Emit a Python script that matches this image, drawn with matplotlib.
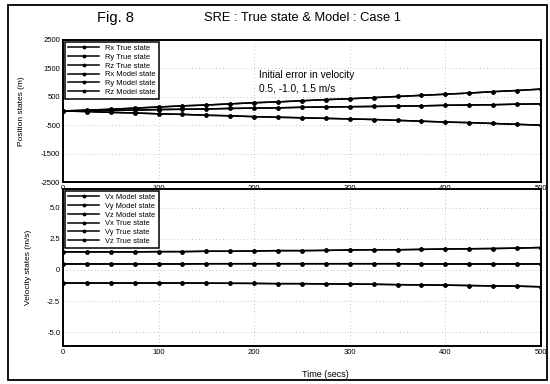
import matplotlib
matplotlib.use("Agg")
import matplotlib.pyplot as plt
from matplotlib.patches import Rectangle

plt.rcParams["font.family"] = ["Liberation Sans", "DejaVu Sans"]
plt.rcParams["axes.unicode_minus"] = False

# time axis, one marker every 25 s
t = [0, 25, 50, 75, 100, 125, 150, 175, 200, 225, 250,
     275, 300, 325, 350, 375, 400, 425, 450, 475, 500]

# position states (m)
rz_pos = [0, 30, 60, 100, 140, 180, 210, 250, 290, 320, 360,
          400, 430, 470, 510, 550, 590, 630, 680, 720, 770]
rx_pos = [0, 10, 20, 30, 50, 60, 70, 90, 100, 110, 130,
          140, 150, 160, 170, 180, 200, 210, 220, 240, 250]
ry_pos = [0, -20, -50, -70, -100, -120, -150, -170, -200, -220, -240,
          -260, -280, -300, -330, -360, -390, -410, -440, -470, -500]

# velocity states (m/s)
vz_vel = [1.45, 1.45, 1.45, 1.45, 1.47, 1.47, 1.5, 1.5, 1.52, 1.55, 1.55,
          1.57, 1.6, 1.62, 1.62, 1.65, 1.68, 1.7, 1.72, 1.75, 1.8]
vx_vel = [0.48, 0.48, 0.48, 0.48, 0.48, 0.48, 0.5, 0.5, 0.5, 0.5, 0.5,
          0.5, 0.5, 0.5, 0.5, 0.48, 0.48, 0.48, 0.48, 0.48, 0.48]
vy_vel = [-1.05, -1.05, -1.05, -1.05, -1.05, -1.05, -1.06, -1.07, -1.08, -1.1, -1.1,
          -1.12, -1.13, -1.15, -1.18, -1.2, -1.22, -1.25, -1.28, -1.3, -1.35]

pos_labels = ["Rx True state", "Ry True state", "Rz True state",
              "Rx Model state", "Ry Model state", "Rz Model state"]
vel_labels = ["Vx Model state", "Vy Model state", "Vz Model state",
              "Vx True state", "Vy True state", "Vz True state"]

fig = plt.figure(figsize=(5.5, 3.84), dpi=100)

# border round the whole figure
fig.patches.append(Rectangle((0.015, 0.011), 0.979, 0.976, transform=fig.transFigure,
                             fill=False, lw=1.3, ec="black"))

fig.text(0.21, 0.953, "Fig. 8", fontsize=10.5, ha="center", va="center")
fig.text(0.55, 0.953, "SRE : True state & Model : Case 1", fontsize=9.3,
         ha="center", va="center")

ax1 = fig.add_axes([0.1145, 0.526, 0.869, 0.370])
ax2 = fig.add_axes([0.1145, 0.099, 0.869, 0.409])

line_kw = dict(color="black", lw=1.1, marker="o", ms=2.2)

pos_series = [rx_pos, ry_pos, rz_pos, rx_pos, ry_pos, rz_pos]
for vals, lab in zip(pos_series, pos_labels):
    ax1.plot(t, vals, label=lab, **line_kw)

vel_series = [vx_vel, vy_vel, vz_vel, vx_vel, vy_vel, vz_vel]
for vals, lab in zip(vel_series, vel_labels):
    ax2.plot(t, vals, label=lab, **line_kw)

ax1.set_xlim(0, 500)
ax1.set_ylim(-2500, 2500)
ax1.set_yticks([-2500, -1500, -500, 500, 1500, 2500])
ax1.set_ylabel("Position states (m)", fontsize=6)

ax2.set_xlim(0, 500)
ax2.set_ylim(-6.1, 6.5)
ax2.set_yticks([-5.0, -2.5, 0, 2.5, 5.0])
ax2.set_yticklabels(["-5.0", "-2.5", "0", "2.5", "5.0"])
ax2.set_ylabel("Velocity states (m/s)", fontsize=6)
ax2.set_xlabel("Time (secs)", fontsize=6.5)

for ax in (ax1, ax2):
    ax.set_xticks([0, 100, 200, 300, 400, 500])
    ax.tick_params(labelsize=5.5, length=0, pad=2)
    ax.grid(True, ls=(0, (1, 4)), lw=0.5, color="0.55")
    for sp in ax.spines.values():
        sp.set_linewidth(1.4)
    ax.legend(loc="upper left", fontsize=5.4, frameon=True, fancybox=False,
              edgecolor="black", framealpha=1, handlelength=4.2,
              labelspacing=0.2, borderaxespad=0.25, borderpad=0.4,
              markerscale=0.8)

ax1.get_legend().get_frame().set_linewidth(1.1)
ax2.get_legend().get_frame().set_linewidth(1.1)
ax1.yaxis.set_label_coords(-0.08, 0.5)
ax2.yaxis.set_label_coords(-0.065, 0.5)
ax2.xaxis.set_label_coords(0.55, -0.15)

ax1.text(0.41, 0.73, "Initial error in velocity", fontsize=7.3, transform=ax1.transAxes)
ax1.text(0.41, 0.64, "0.5, -1.0, 1.5 m/s", fontsize=7.3, transform=ax1.transAxes)

fig.savefig("out.png", dpi=100)
